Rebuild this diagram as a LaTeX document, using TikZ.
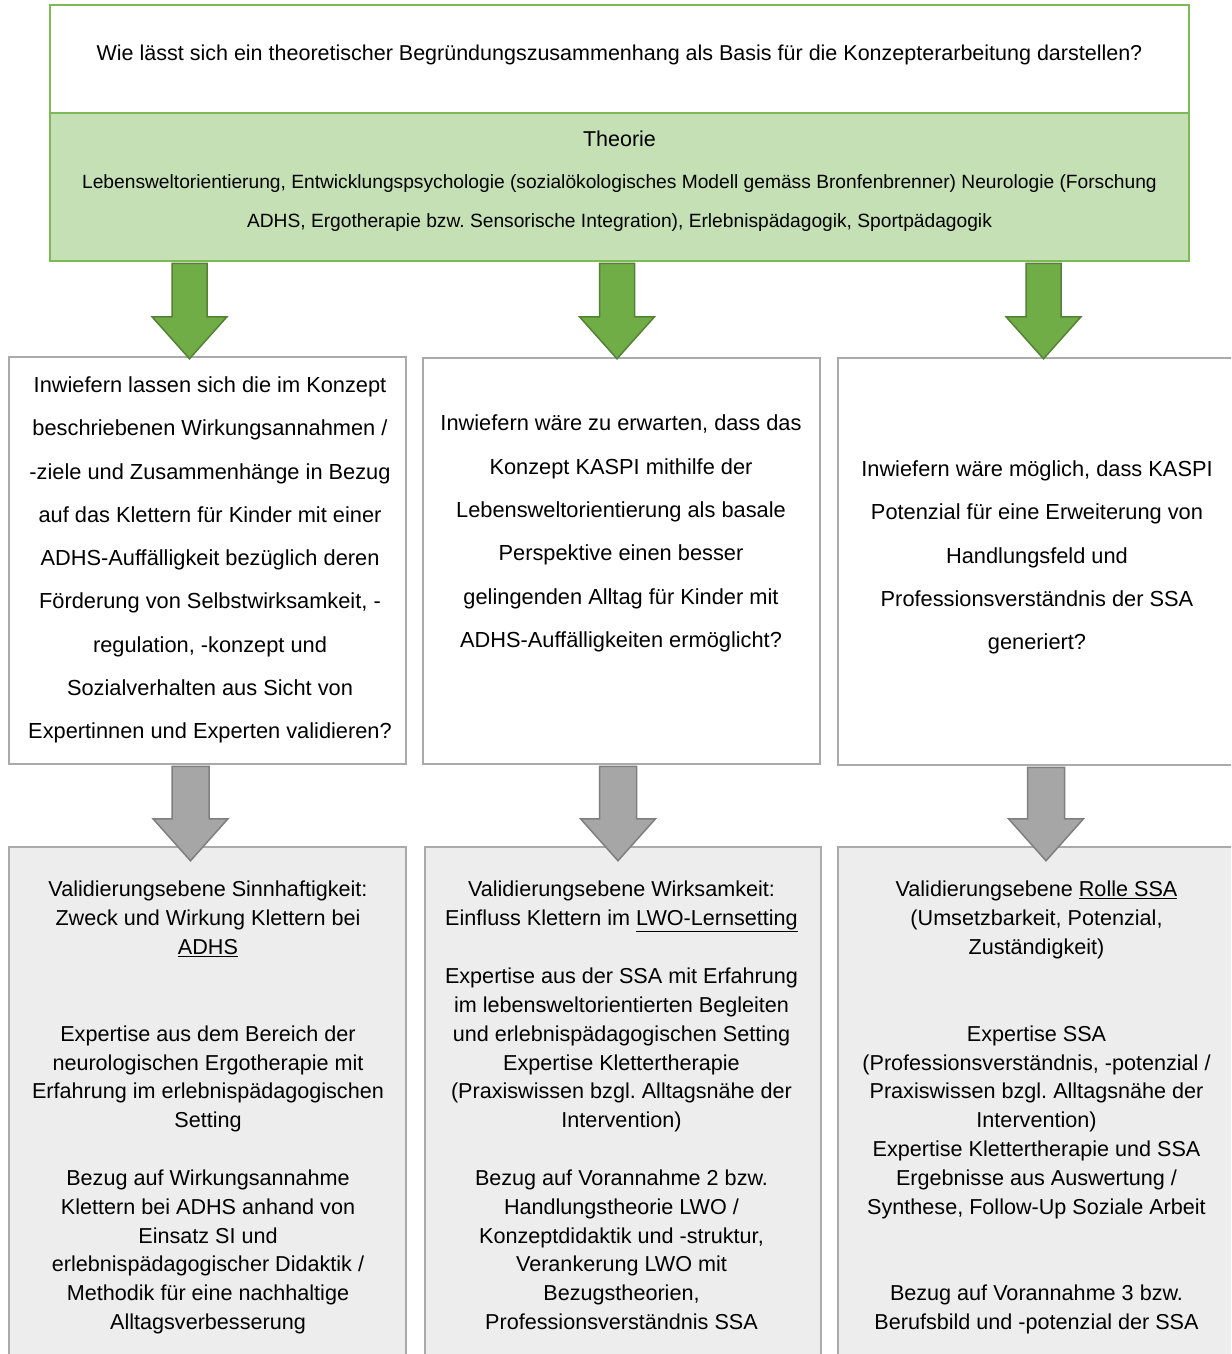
\documentclass[tikz,border=0pt]{standalone}
\usepackage{fontspec}
\setmainfont{Liberation Sans}
\frenchspacing
\usetikzlibrary{calc}
\definecolor{topgreen}{RGB}{125,185,85}
\definecolor{theofill}{RGB}{197,224,180}
\definecolor{arrowgreen}{RGB}{112,173,71}
\definecolor{arrowgreenline}{RGB}{84,130,53}
\definecolor{boxgray}{RGB}{170,170,170}
\definecolor{arrowgray}{RGB}{166,166,166}
\definecolor{arrowgrayline}{RGB}{127,127,127}
\definecolor{bottomfill}{RGB}{237,237,237}
\newcommand\blockarrow[6]{%
  \draw[#1] let \p1=#2, \p2=#3 in
    (\x1-#4,\y1) -- (\x1+#4,\y1) -- (\x1+#4,\y2+#6) -- (\x1+#5,\y2+#6)
    -- (\x2,\y2) -- (\x1-#5,\y2+#6) -- (\x1-#4,\y2+#6) -- cycle;}
\tikzset{
  qbox/.style={draw=topgreen, line width=2.5pt, fill=white, inner sep=0pt},
  theobox/.style={draw=topgreen, line width=2.5pt, fill=theofill, inner sep=0pt},
  midbox/.style={draw=boxgray, line width=2.5pt, fill=white, inner sep=0pt},
  botbox/.style={draw=boxgray, line width=2.5pt, fill=bottomfill, inner sep=0pt},
  bigtext/.style={inner sep=0pt, align=center, font=\fontsize{21.5pt}{25.8pt}\selectfont\frenchspacing},
  theotext/.style={inner sep=0pt, align=center, font=\fontsize{19.2pt}{39pt}\selectfont\frenchspacing},
  midtext/.style={inner sep=0pt, align=center, font=\fontsize{21.8pt}{43.3pt}\selectfont\frenchspacing},
  bottext/.style={inner sep=0pt, align=center, font=\fontsize{21.6pt}{28.85pt}\selectfont\frenchspacing},
  greenarrow/.style={fill=arrowgreen, draw=arrowgreenline, line width=1.5pt, line join=miter},
  grayarrow/.style={fill=arrowgray, draw=arrowgrayline, line width=1.5pt, line join=miter}
}
\begin{document}
\begin{tikzpicture}[x=1pt,y=-1pt]
\useasboundingbox (0,0) rectangle (1231,1354);
\clip (0,0) rectangle (1231,1354);
\fill[white] (0,0) rectangle (1231,1354);
% top question and theory
\node[qbox, minimum width=1139pt, minimum height=108pt] (q) at (619.5,59) {};
\node[theobox, minimum width=1139pt, minimum height=148pt] (theo) at (619.5,187) {};
\node[bigtext] (qt) at (619.5,55.5) {\strut Wie lässt sich ein theoretischer Begründungszusammenhang als Basis für die Konzepterarbeitung darstellen?\strut};
\node[bigtext] (theotitle) at (619.5,141.5) {\strut Theorie\strut};
\node[theotext] (theobody) at (619.5,200.6) {\strut Lebensweltorientierung, Entwicklungspsychologie (sozialökologisches Modell gemäss Bronfenbrenner) Neurologie (Forschung\\ADHS, Ergotherapie bzw. Sensorische Integration), Erlebnispädagogik, Sportpädagogik\strut};
% middle row
\node[midbox, minimum width=397pt, minimum height=407pt] (m1) at (207.5,560.5) {};
\node[midbox, minimum width=397pt, minimum height=406pt] (m2) at (621.5,561) {};
\node[midbox, minimum width=402pt, minimum height=407pt] (m3) at (1039,561.5) {};
\node[midtext] (m1t) at (210,557) {\strut Inwiefern lassen sich die im Konzept\\beschriebenen Wirkungsannahmen /\\-ziele und Zusammenhänge in Bezug\\auf das Klettern für Kinder mit einer\\ADHS-Auffälligkeit bezüglich deren\\Förderung von Selbstwirksamkeit, -\\regulation, -konzept und\\Sozialverhalten aus Sicht von\\Expertinnen und Experten validieren?\strut};
\node[midtext] (m2t) at (621,530.5) {\strut Inwiefern wäre zu erwarten, dass das\\Konzept KASPI mithilfe der\\Lebensweltorientierung als basale\\Perspektive einen besser\\gelingenden Alltag für Kinder mit\\ADHS-Auffälligkeiten ermöglicht?\strut};
\node[midtext] (m3t) at (1037,554.5) {\strut Inwiefern wäre möglich, dass KASPI\\Potenzial für eine Erweiterung von\\Handlungsfeld und\\Professionsverständnis der SSA\\generiert?\strut};
% bottom row
\node[botbox, minimum width=397pt, minimum height=518pt] (b1) at (207.5,1106) {};
\node[botbox, minimum width=396pt, minimum height=518pt] (b2) at (623,1106) {};
\node[botbox, minimum width=402pt, minimum height=518pt] (b3) at (1039,1106) {};
\node[bottext] (b1t) at (208,1107.5) {\strut Validierungsebene Sinnhaftigkeit:\\Zweck und Wirkung Klettern bei\\\underline{ADHS}\\[57.7pt]Expertise aus dem Bereich der\\neurologischen Ergotherapie mit\\Erfahrung im erlebnispädagogischen\\Setting\\[28.85pt]Bezug auf Wirkungsannahme\\Klettern bei ADHS anhand von\\Einsatz SI und\\erlebnispädagogischer Didaktik /\\Methodik für eine nachhaltige\\Alltagsverbesserung\strut};
\node[bottext] (b2t) at (621.5,1107.5) {\strut Validierungsebene Wirksamkeit:\\Einfluss Klettern im \underline{LWO-Lernsetting}\\[28.85pt]Expertise aus der SSA mit Erfahrung\\im lebensweltorientierten Begleiten\\und erlebnispädagogischen Setting\\Expertise Klettertherapie\\(Praxiswissen bzgl. Alltagsnähe der\\Intervention)\\[28.85pt]Bezug auf Vorannahme 2 bzw.\\Handlungstheorie LWO /\\Konzeptdidaktik und -struktur,\\Verankerung LWO mit\\Bezugstheorien,\\Professionsverständnis SSA\strut};
\node[bottext] (b3t) at (1036.5,1107.5) {\strut Validierungsebene \underline{Rolle SSA}\\(Umsetzbarkeit, Potenzial,\\Zuständigkeit)\\[57.7pt]Expertise SSA\\(Professionsverständnis, -potenzial /\\Praxiswissen bzgl. Alltagsnähe der\\Intervention)\\Expertise Klettertherapie und SSA\\Ergebnisse aus Auswertung /\\Synthese, Follow-Up Soziale Arbeit\\[57.7pt]Bezug auf Vorannahme 3 bzw.\\Berufsbild und -potenzial der SSA\strut};
% arrow end points
\coordinate (g1s) at (189.5,0 |- theo.south);
\coordinate (g1e) at (189.5,0 |- m1.north);
\coordinate (g2s) at (617,0 |- theo.south);
\coordinate (g2e) at (617,0 |- m2.north);
\coordinate (g3s) at (1043.5,0 |- theo.south);
\coordinate (g3e) at (1043.5,0 |- m3.north);
\coordinate (k1s) at (190.5,0 |- m1.south);
\coordinate (k1e) at (190.5,0 |- b1.north);
\coordinate (k2s) at (618,0 |- m2.south);
\coordinate (k2e) at (618,0 |- b2.north);
\coordinate (k3s) at (1046,0 |- m3.south);
\coordinate (k3e) at (1046,0 |- b3.north);
% arrows
\blockarrow{greenarrow}{($(g1s)+(0,1)$)}{($(g1e)+(0,3)$)}{17.5pt}{37.5pt}{42pt}
\blockarrow{greenarrow}{($(g2s)+(0,1)$)}{($(g2e)+(0,2)$)}{17.5pt}{37.5pt}{42pt}
\blockarrow{greenarrow}{($(g3s)+(0,1)$)}{($(g3e)+(0,2)$)}{17.5pt}{37.5pt}{42pt}
\blockarrow{grayarrow}{($(k1s)+(0,1)$)}{($(k1e)+(0,15)$)}{18.5pt}{37.5pt}{42pt}
\blockarrow{grayarrow}{($(k2s)+(0,1)$)}{($(k2e)+(0,15)$)}{18.5pt}{37.5pt}{42pt}
\blockarrow{grayarrow}{($(k3s)+(0,1)$)}{($(k3e)+(0,15)$)}{18.5pt}{37.5pt}{42pt}
\end{tikzpicture}
\end{document}
